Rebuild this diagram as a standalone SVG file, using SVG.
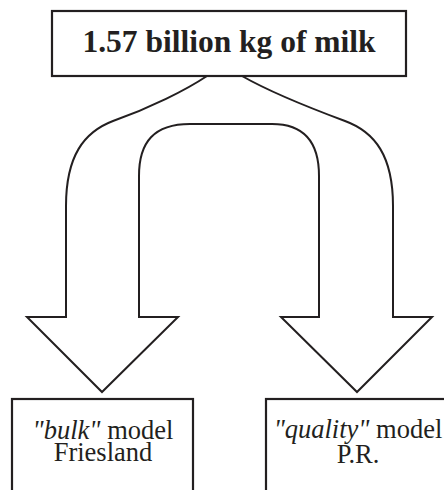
<svg xmlns="http://www.w3.org/2000/svg" width="444" height="490" viewBox="0 0 444 490">
  <style>
    .box { fill: #fff; stroke: #231f20; stroke-width: 2.2; }
    .flow { fill: none; stroke: #231f20; stroke-width: 2; stroke-linejoin: miter; }
    .title { font-family: "Liberation Serif", "Times New Roman", serif; font-weight: bold; font-size: 31.5px; fill: #231f20; text-anchor: middle; }
    .label { font-family: "Liberation Serif", "Times New Roman", serif; font-size: 26.5px; fill: #231f20; text-anchor: middle; }
    .em { font-style: italic; }
  </style>

  <!-- split flow: two broad arrows leaving the source box -->
  <g id="connectors">
    <path class="flow" d="M207,76 C186,90 150,108 113,121 C84,132 66,156 66,206 V317 H27 L102,392 L178,317 H139 V176 C139,142 154,124 190,124 H272 C304,124 319,142 319,176 V317 H281 L357,392 L432,317 H393 V206 C393,156 375,132 345,121 C310,108 270,92 242,76"/>
  </g>

  <g id="source">
    <rect class="box" x="52" y="11" width="354" height="65"/>
    <text class="title" x="229" y="52">1.57 billion kg of milk</text>
  </g>

  <g id="bulk">
    <rect class="box" x="12" y="399" width="181" height="100"/>
    <text class="label" x="103" y="439"><tspan class="em">"bulk"</tspan> model</text>
    <text class="label" x="103" y="461">Friesland</text>
  </g>

  <g id="quality">
    <rect class="box" x="266" y="399" width="200" height="100"/>
    <text class="label" x="358" y="438"><tspan class="em">"quality"</tspan> model</text>
    <text class="label" x="358" y="463">P.R.</text>
  </g>
</svg>
